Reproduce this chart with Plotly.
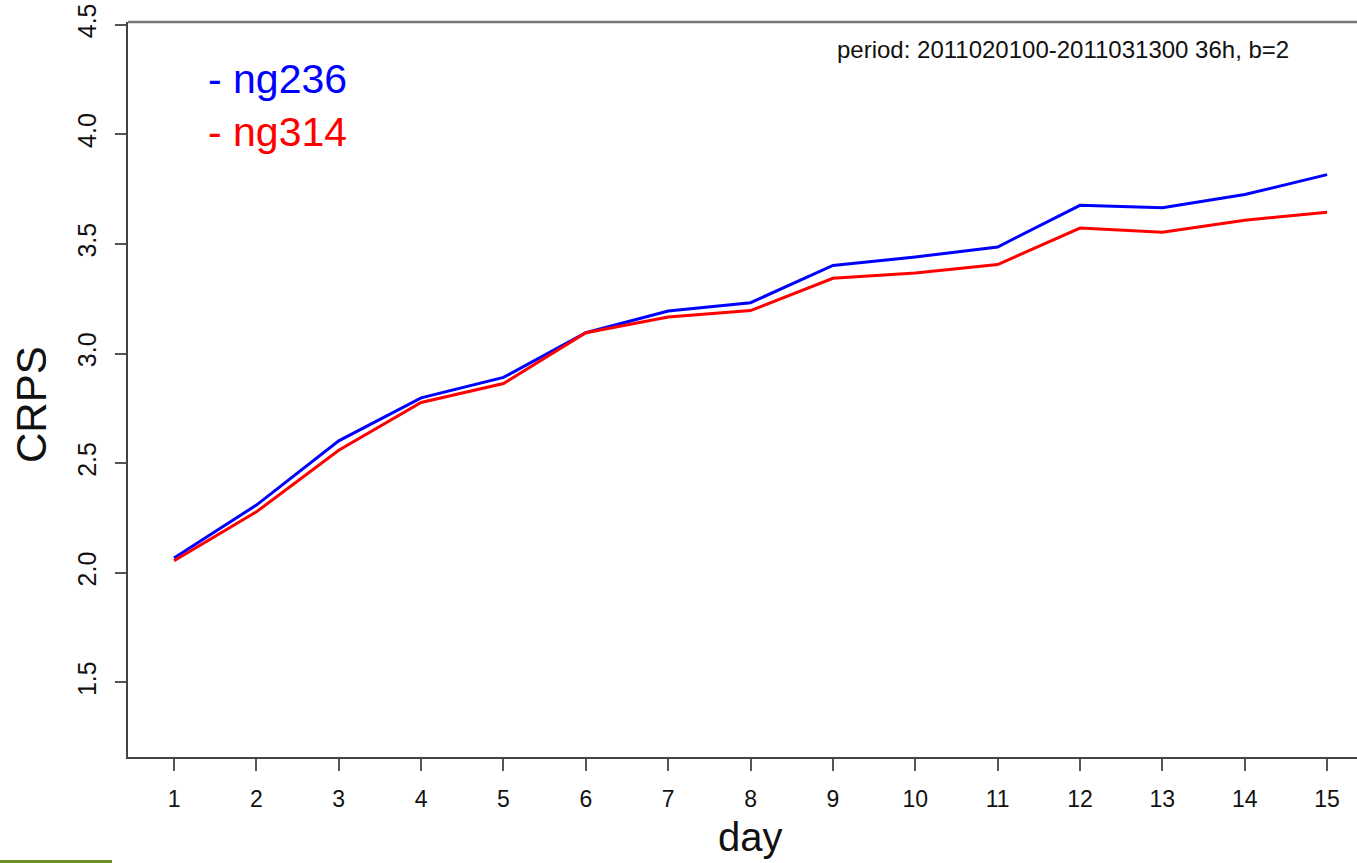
import plotly.graph_objects as go

days = list(range(1, 16))
ng236 = [2.068, 2.309, 2.602, 2.798, 2.891, 3.095, 3.194, 3.232, 3.402, 3.440, 3.486, 3.676, 3.665, 3.725, 3.816]
ng314 = [2.055, 2.278, 2.559, 2.777, 2.863, 3.095, 3.167, 3.196, 3.343, 3.367, 3.406, 3.572, 3.553, 3.608, 3.644]
y_ticks = [1.5, 2.0, 2.5, 3.0, 3.5, 4.0, 4.5]
y_tick_text = ["1.5", "2.0", "2.5", "3.0", "3.5", "4.0", "4.5"]
series_names = ["ng236", "ng314"]
period_text = "period: 2011020100-2011031300 36h, b=2"

W, H = 1357, 863
L, R, T, B = 128, 0, 22, 106
pw, ph = W - L - R, H - T - B

def px_x(x):
    return (x - L) / pw

def px_y(y):
    return (H - B - y) / ph

font = "Liberation Sans, Arial, Helvetica, sans-serif"

fig = go.Figure()
fig.add_trace(go.Scatter(x=days, y=ng236, mode="lines", name=series_names[0],
                         line=dict(color="#0000ff", width=3)))
fig.add_trace(go.Scatter(x=days, y=ng314, mode="lines", name=series_names[1],
                         line=dict(color="#ff0000", width=3)))

fig.update_layout(
    width=W, height=H,
    margin=dict(l=L, r=R, t=T, b=B),
    paper_bgcolor="white", plot_bgcolor="white",
    showlegend=False,
    font=dict(family=font, color="#111"),
    xaxis=dict(range=[0.441, 15.363], tickvals=days, ticktext=[str(d) for d in days],
               showgrid=False, zeroline=False, showline=True, linecolor="#444", linewidth=2,
               ticks="outside", ticklen=12, tickwidth=1.5, tickcolor="#555",
               tickfont=dict(size=23, family=font, color="#111"), ticklabelstandoff=8),
    yaxis=dict(range=[1.16, 4.512], tickvals=y_ticks, ticktext=y_tick_text, tickangle=-90,
               showgrid=False, zeroline=False, showline=True, linecolor="#444", linewidth=2,
               ticks="outside", ticklen=11, tickwidth=1.5, tickcolor="#555",
               tickfont=dict(size=25, family=font, color="#111"), ticklabelstandoff=9),
)

# top frame line
fig.add_shape(type="line", xref="paper", yref="paper", x0=0, x1=1, y0=1, y1=1,
              line=dict(color="#777", width=2.5))
# green strip at bottom-left
fig.add_shape(type="rect", xref="paper", yref="paper", x0=px_x(0), x1=px_x(112),
              y0=px_y(864), y1=px_y(860), line=dict(width=0), fillcolor="#6b8e23")

fig.add_annotation(text="CRPS", xref="paper", yref="paper", x=px_x(32), y=px_y(405),
                   textangle=-90, showarrow=False, font=dict(size=42, family=font, color="#111"),
                   xanchor="center", yanchor="middle")
fig.add_annotation(text="day", xref="paper", yref="paper", x=px_x(750), y=px_y(813),
                   showarrow=False, font=dict(size=40, family=font, color="#111"),
                   xanchor="center", yanchor="top")
fig.add_annotation(text="- " + series_names[0], xref="paper", yref="paper", x=px_x(206), y=px_y(79),
                   showarrow=False, font=dict(size=41, family=font, color="#0000ff"),
                   xanchor="left", yanchor="middle")
fig.add_annotation(text="- " + series_names[1], xref="paper", yref="paper", x=px_x(206), y=px_y(132),
                   showarrow=False, font=dict(size=41, family=font, color="#ff0000"),
                   xanchor="left", yanchor="middle")
fig.add_annotation(text=period_text, xref="paper", yref="paper", x=px_x(1291), y=px_y(49),
                   showarrow=False, font=dict(size=24, family=font, color="#111"),
                   xanchor="right", yanchor="middle")

fig.write_html("out.html")
